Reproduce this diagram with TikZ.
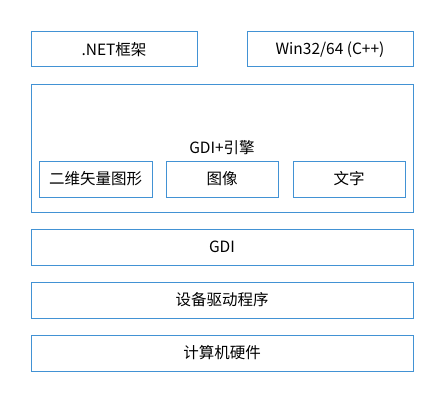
\documentclass[tikz,border=0pt]{standalone}
\usepackage{fontspec}
\setmainfont{Noto Sans CJK SC}
\definecolor{layerblue}{RGB}{66,146,212}
\tikzset{
  layerbox/.style={draw=layerblue, line width=1pt, minimum height=36pt, inner sep=0pt, font=\fontsize{15.5pt}{17pt}\selectfont},
}
\begin{document}
\begin{tikzpicture}[x=1pt, y=-1pt]
	\useasboundingbox (0,0) rectangle (443,401);
	\node[layerbox, minimum width=166pt, minimum height=35pt] (net) at (114,49.5) {.NET框架};
	\node[layerbox, minimum width=166pt, minimum height=35pt] (win) at (330,49.5) {Win32/64 (C++)};
	\node[layerbox, minimum width=382pt, minimum height=128pt] (gdiplus) at (222,148) {GDI+引擎};
	\node[layerbox, minimum width=113pt] (vector) at (95.5,179) {二维矢量图形};
	\node[layerbox, minimum width=112pt] (image) at (222,179) {图像};
	\node[layerbox, minimum width=112pt] (text) at (349,179) {文字};
	\node[layerbox, minimum width=382pt] (gdi) at (222,247) {GDI};
	\node[layerbox, minimum width=382pt] (driver) at (222,300) {设备驱动程序};
	\node[layerbox, minimum width=382pt] (hw) at (222,353) {计算机硬件};
\end{tikzpicture}
\end{document}
